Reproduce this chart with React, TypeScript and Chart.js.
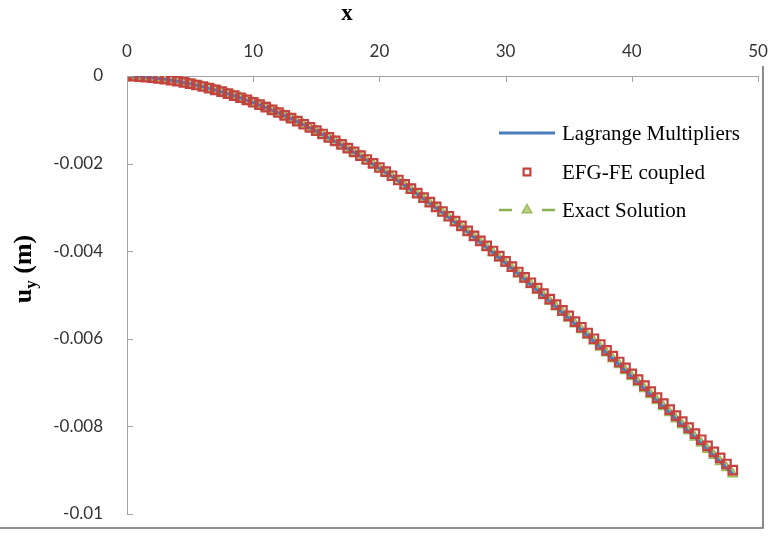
import React, { useEffect, useRef } from "react";
import { Chart, registerables } from "chart.js";

Chart.register(...registerables);

// Node positions along the beam (x) and vertical displacement u_y (m)
const nodeX = [
  0, 0.5, 1, 1.5, 2, 2.5, 3, 3.5, 4, 4.5, 5, 5.5, 6, 6.5, 7, 7.5, 8, 8.5, 9, 9.5,
  10, 10.5, 11, 11.5, 12, 12.5, 13, 13.5, 14, 14.5, 15, 15.5, 16, 16.5, 17, 17.5,
  18, 18.5, 19, 19.5, 20, 20.5, 21, 21.5, 22, 22.5, 23, 23.5, 24, 24.5, 25, 25.5,
  26, 26.5, 27, 27.5, 28, 28.5, 29, 29.5, 30, 30.5, 31, 31.5, 32, 32.5, 33, 33.5,
  34, 34.5, 35, 35.5, 36, 36.5, 37, 37.5, 38, 38.5, 39, 39.5, 40, 40.5, 41, 41.5,
  42, 42.5, 43, 43.5, 44, 44.5, 45, 45.5, 46, 46.5, 47, 47.5, 48,
];

const exactUy = [
  0, -0.0000054, -0.0000134, -0.0000243, -0.000038, -0.0000543, -0.0000734, -0.0000951,
  -0.0001194, -0.0001463, -0.0001758, -0.000208, -0.0002425, -0.0002796, -0.0003191,
  -0.000361, -0.0004052, -0.0004519, -0.000501, -0.0005523, -0.0006058, -0.0006617,
  -0.0007197, -0.0007799, -0.0008423, -0.0009069, -0.0009734, -0.0010421, -0.0011128,
  -0.0011855, -0.0012603, -0.0013369, -0.0014155, -0.001496, -0.0015783, -0.0016625,
  -0.0017484, -0.0018362, -0.0019257, -0.0020169, -0.0021097, -0.0022042, -0.0023004,
  -0.0023981, -0.0024975, -0.0025983, -0.0027007, -0.0028046, -0.0029098, -0.0030166,
  -0.0031246, -0.003234, -0.0033448, -0.0034569, -0.0035702, -0.0036849, -0.0038006,
  -0.0039177, -0.0040358, -0.004155, -0.0042754, -0.0043968, -0.0045192, -0.0046427,
  -0.0047671, -0.0048925, -0.0050188, -0.005146, -0.005274, -0.0054029, -0.0055325,
  -0.005663, -0.0057941, -0.005926, -0.0060586, -0.0061917, -0.0063255, -0.00646,
  -0.006595, -0.0067304, -0.0068665, -0.0070029, -0.0071399, -0.0072773, -0.0074149,
  -0.007553, -0.0076915, -0.0078301, -0.0079691, -0.0081083, -0.0082477, -0.0083872,
  -0.008527, -0.0086668, -0.0088068, -0.0089468, -0.0090868,
];

const efgUy = [
  0, -0.0000053, -0.0000133, -0.0000241, -0.0000376, -0.0000538, -0.0000727, -0.0000942,
  -0.0001182, -0.0001449, -0.0001741, -0.0002059, -0.0002401, -0.0002768, -0.0003159,
  -0.0003574, -0.0004012, -0.0004474, -0.000496, -0.0005468, -0.0005998, -0.0006551,
  -0.0007126, -0.0007722, -0.000834, -0.0008979, -0.0009638, -0.0010318, -0.0011018,
  -0.0011738, -0.0012478, -0.0013237, -0.0014015, -0.0014812, -0.0015627, -0.001646,
  -0.0017311, -0.001818, -0.0019066, -0.0019969, -0.0020888, -0.0021824, -0.0022776,
  -0.0023744, -0.0024728, -0.0025726, -0.002674, -0.0027768, -0.002881, -0.0029867,
  -0.0030937, -0.003202, -0.0033117, -0.0034227, -0.0035349, -0.0036484, -0.003763,
  -0.0038789, -0.0039958, -0.0041139, -0.0042331, -0.0043533, -0.0044745, -0.0045967,
  -0.0047199, -0.0048441, -0.0049691, -0.005095, -0.0052218, -0.0053494, -0.0054777,
  -0.0056069, -0.0057367, -0.0058673, -0.0059986, -0.0061304, -0.0062629, -0.006396,
  -0.0065297, -0.0066638, -0.0067985, -0.0069336, -0.0070692, -0.0072052, -0.0073415,
  -0.0074782, -0.0076153, -0.0077526, -0.0078902, -0.008028, -0.008166, -0.0083042,
  -0.0084426, -0.008581, -0.0087196, -0.0088582, -0.0089968,
];

const lagrangeX = [
  0, 1, 2, 3, 4, 5, 6, 7, 8, 9, 10, 11, 12, 13, 14, 15, 16, 17, 18, 19, 20, 21, 22, 23,
  24, 25, 26, 27, 28, 29, 30, 31, 32, 33, 34, 35, 36, 37, 38, 39, 40, 41, 42, 43, 44, 45,
  46, 47, 48,
];

const lagrangeUy = [
  0, -0.0000134, -0.000038, -0.0000734, -0.0001194, -0.0001758, -0.0002425, -0.0003191,
  -0.0004052, -0.000501, -0.0006058, -0.0007197, -0.0008423, -0.0009734, -0.0011128,
  -0.0012603, -0.0014155, -0.0015783, -0.0017484, -0.0019257, -0.0021097, -0.0023004,
  -0.0024975, -0.0027007, -0.0029098, -0.0031246, -0.0033448, -0.0035702, -0.0038006,
  -0.0040358, -0.0042754, -0.0045192, -0.0047671, -0.0050188, -0.005274, -0.0055325,
  -0.0057941, -0.0060586, -0.0063255, -0.006595, -0.0068665, -0.0071399, -0.0074149,
  -0.0076915, -0.0079691, -0.0082477, -0.008527, -0.0088068, -0.0090868,
];

const seriesNames = ["Lagrange Multipliers", "EFG-FE coupled", "Exact Solution"];
const xTitle = "x";
const yTitleMain = "u";
const yTitleSub = "y";
const yTitleUnit = " (m)";

const BLUE = "#4a7ebb";
const RED = "#c4423f";
const GREEN = "#8db04f";
const AXIS = "#a3a3a3";
const LABEL_FONT = "Lato";
const SERIF = "'Liberation Serif', 'Times New Roman', serif";

const decorations = {
  id: "decorations",
  afterDraw(chart: any) {
    const { ctx, chartArea, scales } = chart;
    const xs = scales.x;
    const ys = scales.y;
    ctx.save();

    // inward tick marks
    ctx.strokeStyle = AXIS;
    ctx.lineWidth = 1;
    ctx.beginPath();
    xs.ticks.forEach((t: any) => {
      const px = Math.round(xs.getPixelForValue(t.value)) + 0.5;
      ctx.moveTo(px, chartArea.top);
      ctx.lineTo(px, chartArea.top + 6);
    });
    ys.ticks.forEach((t: any) => {
      const py = Math.round(ys.getPixelForValue(t.value)) + 0.5;
      ctx.moveTo(chartArea.left, py);
      ctx.lineTo(chartArea.left + 6, py);
    });
    ctx.stroke();

    // axis titles
    ctx.fillStyle = "#000";
    ctx.textAlign = "center";
    ctx.textBaseline = "middle";
    ctx.font = `bold 23px ${SERIF}`;
    ctx.fillText(xTitle, 347, 14);

    ctx.save();
    ctx.translate(23, 269);
    ctx.rotate(-Math.PI / 2);
    ctx.textAlign = "left";
    ctx.textBaseline = "alphabetic";
    const mainFont = `bold 26px ${SERIF}`;
    const subFont = `bold 17px ${SERIF}`;
    ctx.font = mainFont;
    const wMain = ctx.measureText(yTitleMain).width;
    const wUnit = ctx.measureText(yTitleUnit).width;
    ctx.font = subFont;
    const wSub = ctx.measureText(yTitleSub).width;
    const total = wMain + wSub + wUnit;
    let cx = -total / 2;
    const base = 8;
    ctx.font = mainFont;
    ctx.fillText(yTitleMain, cx, base);
    cx += wMain;
    ctx.font = subFont;
    ctx.fillText(yTitleSub, cx, base + 5);
    cx += wSub;
    ctx.font = mainFont;
    ctx.fillText(yTitleUnit, cx, base);
    ctx.restore();

    // legend
    const ds = chart.data.datasets;
    const rowY = [133, 172, 210];
    const x0 = 499;
    const x1 = 555;
    const mid = (x0 + x1) / 2;
    ds.forEach((d: any, i: number) => {
      const y = rowY[i];
      if (d.showLine && !d.borderDash) {
        ctx.strokeStyle = d.borderColor;
        ctx.lineWidth = d.borderWidth;
        ctx.beginPath();
        ctx.moveTo(x0, y);
        ctx.lineTo(x1, y);
        ctx.stroke();
      }
      if (d.showLine && d.borderDash) {
        ctx.strokeStyle = d.borderColor;
        ctx.lineWidth = d.borderWidth;
        ctx.beginPath();
        ctx.moveTo(x0, y);
        ctx.lineTo(x0 + 13, y);
        ctx.moveTo(x1 - 13, y);
        ctx.lineTo(x1, y);
        ctx.stroke();
      }
      if (d.pointRadius > 0) {
        ctx.strokeStyle = d.pointBorderColor;
        ctx.fillStyle = d.pointBackgroundColor;
        ctx.lineWidth = d.pointBorderWidth;
        ctx.beginPath();
        if (d.pointStyle === "rect") {
          const s = d.pointRadius * Math.SQRT1_2 * 0.8;
          ctx.rect(mid - s, y - s, 2 * s, 2 * s);
        } else {
          const r = d.pointRadius;
          ctx.moveTo(mid, y - r);
          ctx.lineTo(mid + r * Math.sin((2 * Math.PI) / 3), y + r / 2);
          ctx.lineTo(mid - r * Math.sin((2 * Math.PI) / 3), y + r / 2);
          ctx.closePath();
        }
        ctx.fill();
        ctx.stroke();
      }
      ctx.fillStyle = "#000";
      ctx.font = `21px ${SERIF}`;
      ctx.textAlign = "left";
      ctx.textBaseline = "middle";
      ctx.fillText(d.label, 562, y + 1);
    });

    // outer frame (right and bottom edges)
    ctx.strokeStyle = "#6f6f6f";
    ctx.lineWidth = 1.6;
    ctx.beginPath();
    ctx.moveTo(763, 66);
    ctx.lineTo(763, 528);
    ctx.lineTo(0, 528);
    ctx.stroke();

    ctx.restore();
  },
};

export default function App() {
  const canvasRef = useRef<HTMLCanvasElement | null>(null);

  useEffect(() => {
    document.body.style.margin = "0";
    const canvas = canvasRef.current;
    if (!canvas) return;

    const chart = new Chart(canvas, {
      type: "scatter",
      data: {
        datasets: [
          {
            label: seriesNames[0],
            data: lagrangeX.map((x, i) => ({ x, y: lagrangeUy[i] })),
            showLine: true,
            borderColor: BLUE,
            borderWidth: 3,
            pointRadius: 0,
            order: 1,
          } as any,
          {
            label: seriesNames[1],
            data: nodeX.map((x, i) => ({ x, y: efgUy[i] })),
            showLine: false,
            pointStyle: "rect",
            pointRadius: 6,
            pointBorderColor: RED,
            pointBackgroundColor: "rgba(255,255,255,0)",
            pointBorderWidth: 2.2,
            order: 0,
          },
          {
            label: seriesNames[2],
            data: nodeX.map((x, i) => ({ x, y: exactUy[i] })),
            showLine: true,
            borderColor: GREEN,
            borderWidth: 2.5,
            borderDash: [12, 6],
            pointStyle: "triangle",
            pointRadius: 5.4,
            pointBorderColor: "#9bbb59",
            pointBackgroundColor: "#b9d28c",
            pointBorderWidth: 1.5,
            order: 2,
          },
        ],
      },
      options: {
        responsive: false,
        animation: false,
        layout: { padding: { left: 0, top: 0, right: 18, bottom: 24 } },
        plugins: {
          legend: { display: false },
          tooltip: { enabled: false },
        },
        scales: {
          x: {
            type: "linear",
            position: "top",
            min: 0,
            max: 50,
            grid: { display: false },
            border: { display: true, color: AXIS, width: 1 },
            ticks: {
              stepSize: 10,
              padding: 6,
              color: "#333",
              font: { family: LABEL_FONT, size: 17 },
            },
            afterFit(scale: any) {
              scale.height = 76;
              scale.paddingLeft = 0;
              scale.paddingRight = 0;
            },
          },
          y: {
            type: "linear",
            min: -0.01,
            max: 0,
            grid: { display: false },
            border: { display: true, color: AXIS, width: 1 },
            ticks: {
              stepSize: 0.002,
              padding: 16,
              color: "#333",
              font: { family: LABEL_FONT, size: 17 },
              callback: (v: any) => String(parseFloat(Number(v).toPrecision(6))),
            },
            afterFit(scale: any) {
              scale.width = 127;
              scale.paddingTop = 0;
              scale.paddingBottom = 0;
            },
          },
        },
      },
      plugins: [decorations],
    });

    return () => chart.destroy();
  }, []);

  return (
    <div style={{ position: "absolute", left: 0, top: 0, width: 776, height: 538, background: "#fff" }}>
      <canvas ref={canvasRef} width={776} height={538} />
    </div>
  );
}
